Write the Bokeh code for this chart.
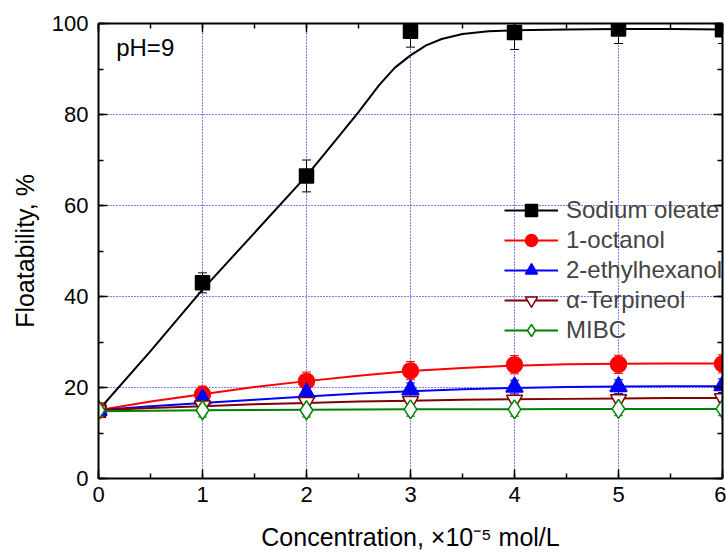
from bokeh.plotting import figure
from bokeh.models import (ColumnDataSource, Whisker, TeeHead, Legend, LegendItem,
                          LinearAxis, SingleIntervalTicker, Label, Range1d)
from bokeh.embed import file_html
from bokeh.resources import INLINE

# ---- data ----
conc = [0, 1, 2, 3, 4, 5, 6]
sodium_oleate = [15, 43, 66.5, 98.3, 98.0, 98.8, 98.6]
sodium_oleate_err = [0.5, 2.2, 3.5, 3.5, 3.7, 3.2, 3.0]
octanol = [15, 18.5, 21.4, 23.7, 25.0, 25.1, 25.2]
octanol_err = [1.0, 1.8, 2.0, 2.0, 2.0, 2.0, 2.0]
ethylhexanol = [15, 17.5, 18.8, 19.5, 20.1, 20.2, 20.4]
ethylhexanol_err = [1.0, 1.5, 1.5, 1.5, 1.5, 1.5, 1.5]
terpineol = [15, 16.0, 16.8, 17.0, 17.3, 17.4, 17.6]
terpineol_err = [1.0, 1.8, 1.8, 1.8, 1.8, 1.8, 1.8]
mibc = [15, 15.0, 15.0, 15.2, 15.2, 15.3, 15.3]
mibc_err = [1.0, 1.5, 1.5, 1.5, 1.5, 1.5, 1.5]

# fitted curves
fit_x = [0, 0.5, 1, 1.5, 2, 2.25, 2.5, 2.7, 2.85, 3.0, 3.15, 3.3, 3.5, 3.75, 4, 4.5, 5, 5.5, 6]
fit_so = [15, 28, 41.5, 54, 66.5, 73.5, 80.5, 86.5, 90.3, 93.0, 95.2, 96.6, 97.7, 98.3, 98.5,
          98.7, 98.8, 98.8, 98.7]
fit_x2 = [0, 0.5, 1, 1.5, 2, 2.5, 3, 3.5, 4, 4.5, 5, 5.5, 6]
fit_oct = [15, 16.9, 18.5, 20.1, 21.4, 22.6, 23.6, 24.3, 24.8, 25.1, 25.2, 25.3, 25.3]
fit_eh = [15, 15.9, 16.6, 17.3, 18.0, 18.7, 19.2, 19.6, 19.9, 20.1, 20.2, 20.3, 20.3]
fit_terp = [15, 15.5, 15.9, 16.3, 16.6, 16.9, 17.1, 17.3, 17.4, 17.5, 17.6, 17.7, 17.7]
fit_mibc = [14.8, 14.9, 15.0, 15.05, 15.1, 15.15, 15.2, 15.2, 15.2, 15.25, 15.3, 15.3, 15.3]

labels = ["Sodium oleate", "1-octanol", "2-ethylhexanol", "\u03b1-Terpineol", "MIBC"]
colors = ["black", "#ff0000", "#0000ff", "#800000", "#008000"]
x_title = "Concentration, \u00d710\u207b\u2075 mol/L"
y_title = "Floatability, %"

FONT = "Liberation Sans"

p = figure(width=726, height=553, x_range=Range1d(0, 6), y_range=Range1d(0, 100),
           output_backend="svg", toolbar_location=None,
           min_border_left=98, min_border_right=4, min_border_top=23, min_border_bottom=75)
p.outline_line_color = None
p.background_fill_color = "white"
p.border_fill_color = "white"

def style_axis(ax, show_labels=True):
    ax.axis_line_width = 2
    ax.axis_line_color = "black"
    ax.major_tick_in = 9
    ax.major_tick_out = 0
    ax.minor_tick_in = 5
    ax.minor_tick_out = 0
    ax.major_tick_line_width = 1.5
    ax.minor_tick_line_width = 1.5
    ax.major_tick_line_color = "black"
    ax.minor_tick_line_color = "black"
    ax.major_label_text_font = FONT
    ax.major_label_text_font_size = "22px" if show_labels else "0px"
    ax.major_label_text_color = "black"
    if not show_labels:
        ax.major_label_standoff = 0

xt = SingleIntervalTicker(interval=1, num_minor_ticks=2)
yt = SingleIntervalTicker(interval=20, num_minor_ticks=2)
p.xaxis.ticker = xt
p.yaxis.ticker = yt
for ax in p.xaxis + p.yaxis:
    style_axis(ax)
p.xaxis.major_label_standoff = 8
p.yaxis.major_label_standoff = 10
p.xaxis.axis_label = x_title
p.yaxis.axis_label = y_title
for ax in p.xaxis + p.yaxis:
    ax.axis_label_text_font = FONT
    ax.axis_label_text_font_size = "25px"
    ax.axis_label_text_font_style = "normal"
    ax.axis_label_text_color = "black"
p.xaxis.axis_label_standoff = 18
p.yaxis.axis_label_standoff = 10

top = LinearAxis(ticker=SingleIntervalTicker(interval=1, num_minor_ticks=2))
right = LinearAxis(ticker=SingleIntervalTicker(interval=20, num_minor_ticks=2))
style_axis(top, False)
style_axis(right, False)
p.add_layout(top, "above")
p.add_layout(right, "right")

p.xgrid.ticker = xt
p.ygrid.ticker = yt
for g in (p.xgrid, p.ygrid):
    g.grid_line_color = "#0000ff"
    g.grid_line_dash = "1 2"
    g.grid_line_width = 1

series = [
    (sodium_oleate, sodium_oleate_err, fit_x, fit_so, "square", 14, "black"),
    (octanol, octanol_err, fit_x2, fit_oct, "circle", 16, "#ff0000"),
    (ethylhexanol, ethylhexanol_err, fit_x2, fit_eh, "triangle", 17, "#0000ff"),
    (terpineol, terpineol_err, fit_x2, fit_terp, "inverted_triangle", 16, "white"),
    (mibc, mibc_err, fit_x2, fit_mibc, "diamond", 19, "white"),
]

items = []
for (vals, err, fx, fy, marker, size, fill), color, label in zip(series, colors, labels):
    lr = p.line(fx, fy, line_color=color, line_width=2)
    src = ColumnDataSource(dict(x=conc, y=vals,
                                lo=[v - e for v, e in zip(vals, err)],
                                hi=[v + e for v, e in zip(vals, err)]))
    sr = p.scatter("x", "y", source=src, marker=marker, size=size,
                   fill_color=fill, line_color=color, line_width=1.5)
    w = Whisker(base="x", lower="lo", upper="hi", source=src, line_color=color, line_width=1,
                lower_head=TeeHead(size=9, line_color=color, line_width=1),
                upper_head=TeeHead(size=9, line_color=color, line_width=1))
    p.add_layout(w)
    items.append(LegendItem(label=label, renderers=[lr, sr]))

legend = Legend(items=items, location=(406, 133), border_line_color=None,
                background_fill_alpha=0, glyph_width=54, glyph_height=30, spacing=0,
                label_standoff=8, padding=0, margin=0,
                label_text_font=FONT, label_text_font_size="24px")
p.add_layout(legend)

p.add_layout(Label(x=0.17, y=94.7, text="pH=9", text_font=FONT, text_font_size="24px",
                   text_baseline="middle", text_color="black"))

open("out.html", "w").write(file_html(p, INLINE))
